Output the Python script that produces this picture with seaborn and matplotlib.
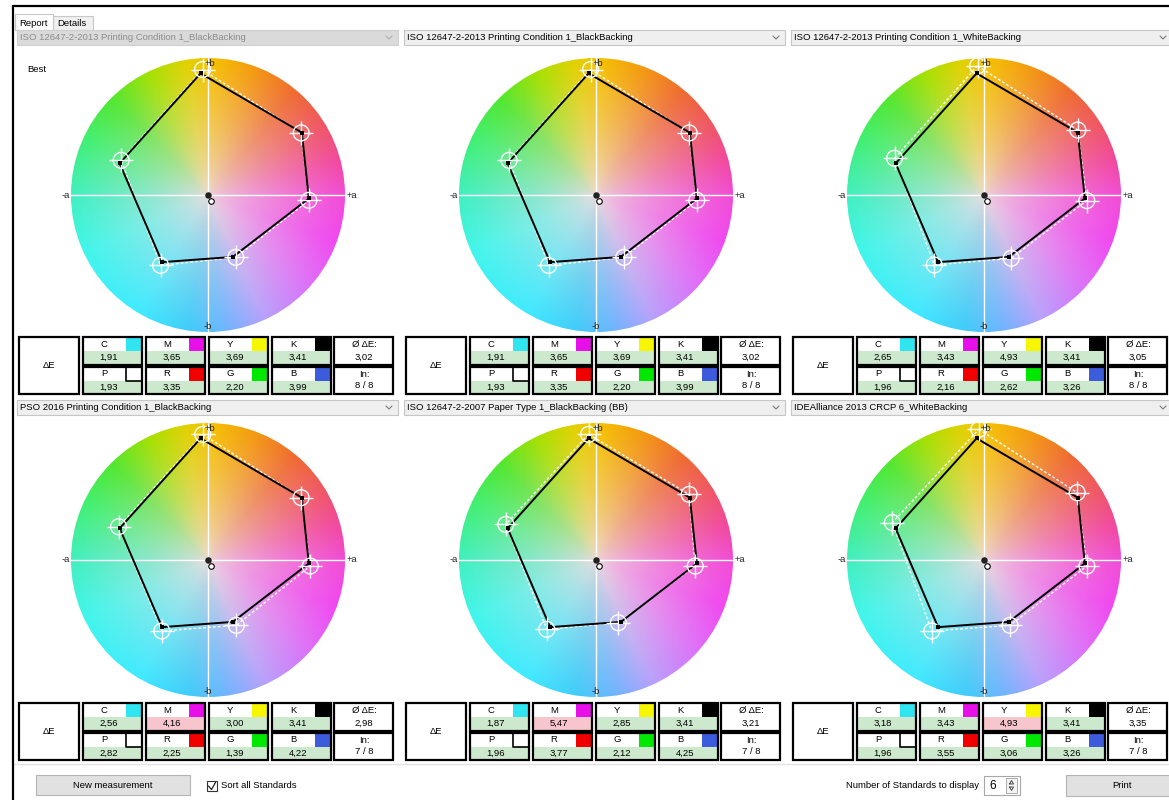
import numpy as np
import matplotlib
matplotlib.use("Agg")
import matplotlib.pyplot as plt
import seaborn as sns
import pandas as pd
from matplotlib.patches import Rectangle, Circle
from matplotlib.colors import to_rgb

# ---------------- data ----------------
standards = [
    "ISO 12647-2-2013 Printing Condition 1_BlackBacking",
    "ISO 12647-2-2013 Printing Condition 1_BlackBacking",
    "ISO 12647-2-2013 Printing Condition 1_WhiteBacking",
    "PSO 2016 Printing Condition 1_BlackBacking",
    "ISO 12647-2-2007 Paper Type 1_BlackBacking (BB)",
    "IDEAlliance 2013 CRCP 6_WhiteBacking",
]
disabled = [True, False, False, False, False, False]
patch_order = ["Y", "R", "M", "B", "C", "G"]

# measured a*/b* (same print for every panel)
meas_a = [-5.4, 68.5, 73.6, 18.1, -33.5, -64.5]
meas_b = [88.8, 45.5, -2.5, -45.2, -49.0, 23.1]
paper_meas_a = [2.5]
paper_meas_b = [-4.7]
paper_aim_a = [0.0]
paper_aim_b = [0.0]

# aims per standard (order Y R M B C G)
aim_iso13_bb_a = [-4.0, 68.0, 73.6, 20.3, -34.6, -63.4]
aim_iso13_bb_b = [91.6, 45.3, -3.9, -45.5, -51.4, 25.3]
aim_iso13_wb_a = [-4.7, 68.5, 75.0, 19.9, -36.3, -65.3]
aim_iso13_wb_b = [94.2, 47.4, -4.1, -46.2, -51.1, 26.8]
aim_pso16_a = [-3.8, 68.0, 74.6, 20.7, -33.7, -65.3]
aim_pso16_b = [91.7, 45.5, -4.4, -47.7, -51.8, 24.3]
aim_iso07_a = [-5.4, 68.0, 72.4, 16.3, -35.9, -65.8]
aim_iso07_b = [91.7, 47.9, -4.4, -45.8, -50.6, 26.0]
aim_crcp6_a = [-3.8, 68.0, 75.1, 19.0, -38.1, -66.9]
aim_crcp6_b = [95.4, 49.2, -4.4, -47.7, -51.8, 27.3]

row1_labels = ["C", "M", "Y", "K"]
row2_labels = ["P", "R", "G", "B"]
dE_C = [1.91, 1.91, 2.65, 2.56, 1.87, 3.18]
dE_M = [3.65, 3.65, 3.43, 4.16, 5.47, 3.43]
dE_Y = [3.69, 3.69, 4.93, 3.00, 2.85, 4.93]
dE_K = [3.41, 3.41, 3.41, 3.41, 3.41, 3.41]
dE_P = [1.93, 1.93, 1.96, 2.82, 1.96, 1.96]
dE_R = [3.35, 3.35, 2.16, 2.25, 3.77, 3.55]
dE_G = [2.20, 2.20, 2.62, 1.39, 2.12, 3.06]
dE_B = [3.99, 3.99, 3.26, 4.22, 4.25, 3.26]
dE_avg = [3.02, 3.02, 3.05, 2.98, 3.21, 3.35]
n_inside = [8, 8, 8, 7, 7, 7]
n_total = 8
failing = [[], [], [], ["M"], ["M"], ["Y"]]

# ---------------- style ----------------
sns.set_theme(style="white")
FONT = ["Liberation Sans", "DejaVu Sans"]
plt.rcParams["font.family"] = FONT
FS = 6.8

W, H = 1169, 800
fig = plt.figure(figsize=(W / 100, H / 100), dpi=100)
fig.patch.set_facecolor("white")
ui = fig.add_axes([0, 0, 1, 1], zorder=0)
ui.set_xlim(0, W)
ui.set_ylim(H, 0)
ui.axis("off")

def rect(x0, y0, x1, y1, fc="white", ec="black", lw=1.0, z=1):
    ui.add_patch(Rectangle((x0, y0), x1 - x0, y1 - y0, facecolor=fc,
                           edgecolor=ec, linewidth=lw, zorder=z))

def txt(x, y, s, ha="left", va="center", size=FS, color="black", **kw):
    ui.text(x, y, s, ha=ha, va=va, fontsize=size, color=color, zorder=5, **kw)

# window frame and tabs
ui.plot([13, 13], [6, H], color="black", lw=1.6, zorder=3)
ui.plot([13, W], [6, 6], color="black", lw=1.6, zorder=3)
rect(53, 16, 93, 30, fc="#f0f0f0", ec="#c8c8c8", lw=0.8)
rect(15, 14, 53, 30, fc="white", ec="#c8c8c8", lw=0.8)
txt(19, 23, "Report")
txt(57, 24, "Details")

swatch = {"C": "#30e4f0", "M": "#e810e8", "Y": "#f6f600", "K": "#000000",
          "R": "#f00000", "G": "#00e800", "B": "#3c5cdc", "P": "white"}
GREEN = "#cde9cd"
PINK = "#f6c6cc"

def fmt(v):
    return f"{v:.2f}".replace(".", ",")

col_x0 = [17, 404, 791]
wheel_cx = [208, 596, 984]
row_oy = [0, 366]
wheel_cy = [195, 560]

aims_a = [aim_iso13_bb_a, aim_iso13_bb_a, aim_iso13_wb_a, aim_pso16_a, aim_iso07_a, aim_crcp6_a]
aims_b = [aim_iso13_bb_b, aim_iso13_bb_b, aim_iso13_wb_b, aim_pso16_b, aim_iso07_b, aim_crcp6_b]

# colour wheel image
hue_stops = [(0, "#f24cd6"), (15, "#f2489e"), (30, "#f05468"), (50, "#f06a30"),
             (70, "#f49a10"), (88, "#f6c000"), (100, "#e0d200"), (115, "#a8e000"),
             (135, "#50e830"), (155, "#40f070"), (180, "#40f0c0"), (205, "#40f6ec"),
             (240, "#40eaff"), (262, "#40ccfa"), (278, "#70b4ff"), (295, "#b8a0fc"),
             (320, "#e06cf8"), (340, "#f048f0"), (360, "#f24cd6")]
angs = np.array([h[0] for h in hue_stops], float)
cols = np.array([to_rgb(h[1]) for h in hue_stops])
N = 500
g = np.linspace(-100, 100, N)
X, Y = np.meshgrid(g, g)
th = np.degrees(np.arctan2(Y, X)) % 360
rr = np.clip(np.hypot(X, Y) / 100, 0, 1)
edge = np.stack([np.interp(th, angs, cols[:, k]) for k in range(3)], axis=-1)
center = np.array([0.93, 0.86, 0.86])
f = (rr ** 0.7)[..., None]
wheel = center + (edge - center) * f
wheel = np.clip(wheel, 0, 1)

PX = 1.37  # pixels per Lab unit
HALF = 155

for i in range(6):
    r, c = divmod(i, 3)
    x0 = col_x0[c]
    ox = 387 * c
    oy = row_oy[r]
    # header combo
    hy0 = 30 if r == 0 else 400
    if disabled[i]:
        rect(x0, hy0, x0 + 381, hy0 + 15, fc="#dadada", ec="#cfcfcf", lw=0.8)
        tcol = "#8c8c8c"
    else:
        rect(x0, hy0, x0 + 381, hy0 + 15, fc="#efefef", ec="#c6c6c6", lw=0.8)
        tcol = "black"
    txt(x0 + 3, hy0 + 7.5, standards[i], color=tcol)
    chx = x0 + 372
    ui.plot([chx - 3, chx, chx + 3], [hy0 + 6, hy0 + 9, hy0 + 6],
            color="#7a7a7a" if not disabled[i] else "#b0b0b0", lw=0.8, zorder=4)
    if i == 0:
        txt(27, 70, "Best")

    # table
    ty0 = 337 + oy
    rect(19 + ox, ty0, 79 + ox, ty0 + 57, lw=1.6)
    txt(49 + ox, ty0 + 28, "ΔE", ha="center")
    cell_x = [83, 146, 209, 272]
    vals1 = [dE_C[i], dE_M[i], dE_Y[i], dE_K[i]]
    vals2 = [dE_P[i], dE_R[i], dE_G[i], dE_B[i]]
    for rowi, (labels, vals) in enumerate([(row1_labels, vals1), (row2_labels, vals2)]):
        cy0 = ty0 + rowi * 29.5
        for lab, v, cx0 in zip(labels, vals, cell_x):
            X0 = cx0 + ox
            X1 = X0 + 59
            fill = PINK if (rowi == 0 and lab in failing[i]) else GREEN
            rect(X0, cy0, X1, cy0 + 27.5, fc="white", ec="none", lw=0)
            rect(X0, cy0 + 14, X1, cy0 + 27.5, fc=fill, ec="none", lw=0)
            ui.add_patch(Rectangle((X1 - 16, cy0), 16, 14, facecolor=swatch[lab],
                                   edgecolor="none", zorder=2))
            if lab == "P":
                ui.plot([X1 - 16, X1 - 16, X1], [cy0, cy0 + 14, cy0 + 14],
                        color="black", lw=1.2, zorder=3)
            rect(X0, cy0, X1, cy0 + 27.5, fc="none", ec="black", lw=1.6, z=3)
            txt(X0 + 21, cy0 + 7.5, lab, ha="center")
            txt(X0 + 26, cy0 + 20.5, fmt(v), ha="center")
    rect(334 + ox, ty0, 393 + ox, ty0 + 27.5, lw=1.6)
    txt(364 + ox, ty0 + 7.5, "Ø ΔE:", ha="center")
    txt(364 + ox, ty0 + 20, fmt(dE_avg[i]), ha="center")
    rect(334 + ox, ty0 + 29.5, 393 + ox, ty0 + 57, lw=1.6)
    txt(364 + ox, ty0 + 37.5, "In:", ha="center")
    txt(364 + ox, ty0 + 49, f"{n_inside[i]} / {n_total}", ha="center")

    # wheel axes
    cxp, cyp = wheel_cx[c], wheel_cy[r]
    ax = fig.add_axes([(cxp - HALF) / W, 1 - (cyp + HALF) / H, 2 * HALF / W, 2 * HALF / H],
                      zorder=2)
    lim = HALF / PX
    ax.set_xlim(-lim, lim)
    ax.set_ylim(-lim, lim)
    ax.set_facecolor("none")
    ax.axis("off")
    im = ax.imshow(wheel, extent=[-100, 100, -100, 100], origin="lower",
                   interpolation="bilinear", zorder=1)
    im.set_clip_path(Circle((0, 0), 100, transform=ax.transData))
    ax.plot([-101, 101], [0, 0], color="white", lw=1.0, zorder=2)
    ax.plot([0, 0], [-100, 100], color="white", lw=1.0, zorder=2)
    ax.text(1.5, 96, "+b", fontsize=FS, ha="center", va="center", zorder=6)
    ax.text(0, -96, "-b", fontsize=FS, ha="center", va="center", zorder=6)
    ax.text(-101, 0, "-a", fontsize=FS, ha="right", va="center", zorder=6)
    ax.text(101.5, 0, "+a", fontsize=FS, ha="left", va="center", zorder=6)

    aim = pd.DataFrame({"a": aims_a[i] + aims_a[i][:1], "b": aims_b[i] + aims_b[i][:1]})
    mea = pd.DataFrame({"a": meas_a + meas_a[:1], "b": meas_b + meas_b[:1]})
    sns.lineplot(data=aim, x="a", y="b", sort=False, estimator=None, ax=ax,
                 color="white", lw=1.0, linestyle=(0, (2, 1.5)), zorder=3)
    sns.lineplot(data=mea, x="a", y="b", sort=False, estimator=None, ax=ax,
                 color="black", lw=1.4, zorder=4)
    sns.scatterplot(x=aims_a[i], y=aims_b[i], ax=ax, marker="o", s=130,
                    facecolor="none", edgecolor="white", linewidth=1.0, zorder=5)
    sns.scatterplot(x=aims_a[i], y=aims_b[i], ax=ax, marker="+", s=300,
                    color="white", linewidth=1.0, zorder=5)
    sns.scatterplot(x=meas_a, y=meas_b, ax=ax, marker="s", s=12,
                    color="black", linewidth=0, zorder=6)
    sns.scatterplot(x=paper_aim_a, y=paper_aim_b, ax=ax, marker="o", s=22,
                    color="#222222", linewidth=0, zorder=6)
    sns.scatterplot(x=paper_meas_a, y=paper_meas_b, ax=ax, marker="o", s=16,
                    facecolor="white", edgecolor="black", linewidth=0.8, zorder=6)
    ax.set_xlabel("")
    ax.set_ylabel("")

# separator and bottom controls
ui.plot([13, W], [764, 764], color="#e2e2e2", lw=1.0, zorder=2)
rect(36, 775, 190, 795, fc="#e1e1e1", ec="#b4b4b4", lw=0.8)
txt(113, 785, "New measurement", ha="center")
rect(207, 781, 217, 791, fc="white", ec="#333333", lw=0.8)
ui.plot([208.5, 211.5, 215.5], [786, 789.5, 782.5], color="#222222", lw=0.9, zorder=4)
txt(221, 786, "Sort all Standards")
txt(979, 786, "Number of Standards to display", ha="right")
rect(984, 776, 1020, 795, fc="white", ec="#a8a8a8", lw=0.8)
txt(989, 786, "6", size=8.5)
rect(1006, 778, 1017, 793, fc="#f4f4f4", ec="#a0a0a0", lw=0.6)
ui.plot([1009.5, 1011.5, 1013.5, 1009.5], [784, 780.5, 784, 784], color="#333333", lw=0.6, zorder=4)
ui.plot([1009.5, 1011.5, 1013.5, 1009.5], [787, 790.5, 787, 787], color="#333333", lw=0.6, zorder=4)
rect(1066, 775, 1180, 796, fc="#e1e1e1", ec="#b4b4b4", lw=0.8)
txt(1122, 785, "Print", ha="center")

fig.savefig("out.png", dpi=100, facecolor="white")
